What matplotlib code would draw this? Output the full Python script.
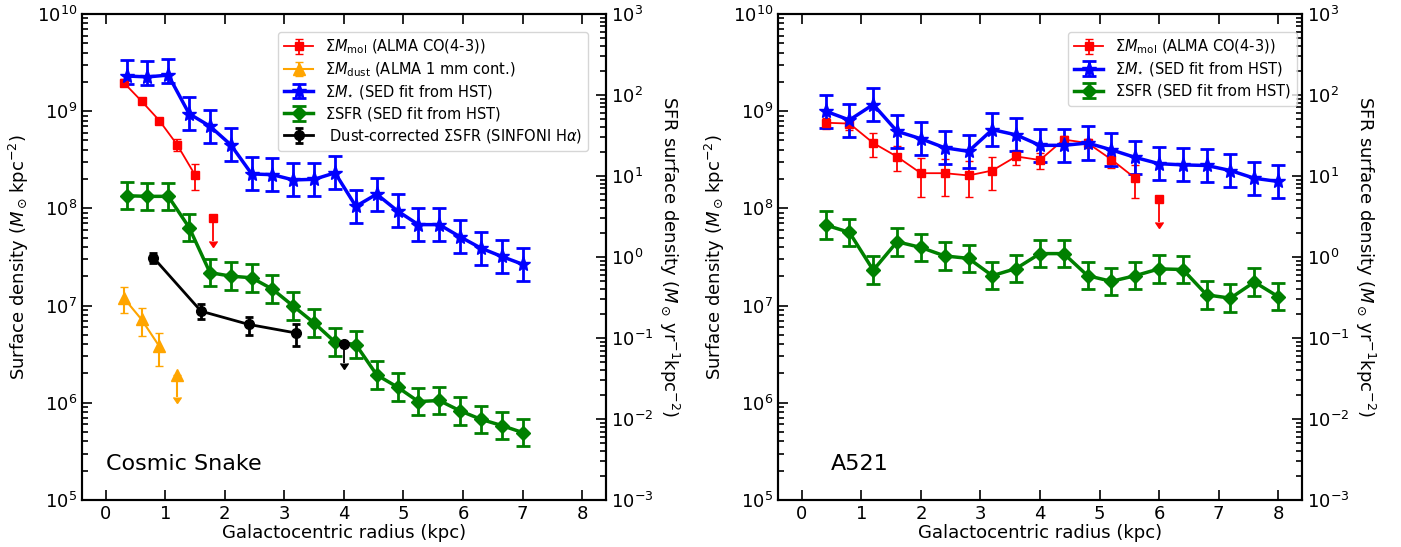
import numpy as np
import matplotlib.pyplot as plt

# ---- Cosmic Snake ----
cs_r = [0.35, 0.70, 1.05, 1.40, 1.75, 2.10, 2.45, 2.80, 3.15, 3.50,
        3.85, 4.20, 4.55, 4.90, 5.25, 5.60, 5.95, 6.30, 6.65, 7.00]
cs_mstar = [2.3e9, 2.25e9, 2.35e9, 9.4e8, 7.0e8, 4.5e8, 2.26e8, 2.22e8, 1.96e8, 1.99e8,
            2.32e8, 1.05e8, 1.4e8, 9.4e7, 6.8e7, 6.8e7, 5.1e7, 3.9e7, 3.2e7, 2.66e7]
cs_mstar_up = [0.165, 0.165, 0.165, 0.17, 0.17, 0.17, 0.17, 0.17, 0.17, 0.17,
               0.17, 0.17, 0.17, 0.17, 0.17, 0.17, 0.17, 0.17, 0.17, 0.17]
cs_mstar_dn = [0.08, 0.08, 0.08, 0.17, 0.17, 0.17, 0.17, 0.17, 0.17, 0.17,
               0.17, 0.17, 0.17, 0.17, 0.17, 0.17, 0.17, 0.17, 0.17, 0.17]
cs_sfr = [5.7, 5.6, 5.6, 2.31, 0.64, 0.58, 0.553, 0.40, 0.247, 0.153,
          0.089, 0.083, 0.035, 0.0247, 0.0164, 0.0169, 0.0126, 0.0099, 0.0083, 0.0068]
cs_sfr_err = [0.17] * 20

cs_mol_r = [0.3, 0.6, 0.9, 1.2, 1.5]
cs_mol = [1.97e9, 1.27e9, 8.0e8, 4.5e8, 2.2e8]
cs_mol_err = [1.5e8, 7e7, 6e7, 6.5e7, 6.6e7]
cs_mol_lim_r = [1.8]
cs_mol_lim = [7.9e7]

cs_dust_r = [0.3, 0.6, 0.9]
cs_dust = [1.2e7, 7.2e6, 3.8e6]
cs_dust_err = [3.7e6, 2.3e6, 1.4e6]
cs_dust_lim_r = [1.2]
cs_dust_lim = [1.95e6]

cs_ha_r = [0.8, 1.6, 2.4, 3.2]
cs_ha = [0.98, 0.214, 0.147, 0.115]
cs_ha_err = [0.14, 0.045, 0.037, 0.035]
cs_ha_lim_r = [4.0]
cs_ha_lim = [0.084]

# ---- A521 ----
a_r = [0.4, 0.8, 1.2, 1.6, 2.0, 2.4, 2.8, 3.2, 3.6, 4.0,
       4.4, 4.8, 5.2, 5.6, 6.0, 6.4, 6.8, 7.2, 7.6, 8.0]
a_mstar = [1.0e9, 8.1e8, 1.17e9, 6.2e8, 5.2e8, 4.2e8, 3.86e8, 6.46e8, 5.7e8, 4.45e8,
           4.45e8, 4.7e8, 4.0e8, 3.34e8, 2.88e8, 2.8e8, 2.76e8, 2.45e8, 2.04e8, 1.89e8]
a_mstar_err = [0.17] * 20
a_sfr = [2.48, 2.01, 0.686, 1.54, 1.31, 1.03, 0.96, 0.587, 0.72, 1.10,
         1.10, 0.587, 0.50, 0.587, 0.713, 0.70, 0.34, 0.31, 0.49, 0.324]
a_sfr_err = [0.17] * 20

a_mol_r = [0.4, 0.8, 1.2, 1.6, 2.0, 2.4, 2.8, 3.2, 3.6, 4.0, 4.4, 4.8, 5.2, 5.6]
a_mol = [7.6e8, 7.45e8, 4.7e8, 3.4e8, 2.3e8, 2.3e8, 2.18e8, 2.45e8, 3.42e8, 3.14e8,
         5.1e8, 4.7e8, 3.18e8, 2.04e8]
a_mol_err = [1.0e8, 1.0e8, 1.3e8, 1.0e8, 1.0e8, 9.5e7, 8.7e7, 9e7, 6e7, 6e7,
             4.5e7, 5e7, 5.5e7, 7.5e7]
a_mol_lim_r = [6.0]
a_mol_lim = [1.24e8]

lbl_mol = r'$\Sigma M_{\rm mol}$ (ALMA CO(4-3))'
lbl_dust = r'$\Sigma M_{\rm dust}$ (ALMA 1 mm cont.)'
lbl_star = r'$\Sigma M_{\star}$ (SED fit from HST)'
lbl_sfr = r'$\Sigma$SFR (SED fit from HST)'
lbl_ha = r' Dust-corrected $\Sigma$SFR (SINFONI H$\alpha$)'


def dex_err(v, up, dn):
    v = np.asarray(v)
    return [v - v / 10 ** np.asarray(dn), v * 10 ** np.asarray(up) - v]


def lim_err(v, dex=0.23):
    v = np.asarray(v)
    return v - v / 10 ** dex


def setup(ax, ax2):
    ax.set_yscale('log')
    ax2.set_yscale('log')
    ax.set_xlim(-0.4, 8.4)
    ax.set_ylim(1e5, 1e10)
    ax2.set_ylim(1e-3, 1e3)
    ax.set_xticks(range(9))
    ax.tick_params(which='both', direction='in', top=True, right=False, labelsize=13, width=1.2)
    ax.tick_params(which='major', length=7)
    ax.tick_params(which='minor', length=4)
    ax.tick_params(axis='x', which='minor', bottom=False, top=False)
    ax2.tick_params(which='both', direction='in', labelsize=13, width=1.2)
    ax2.tick_params(which='major', length=7)
    ax2.tick_params(which='minor', length=4)
    for a in (ax, ax2):
        for s in a.spines.values():
            s.set_linewidth(1.5)
    ax.set_xlabel('Galactocentric radius (kpc)', fontsize=13, labelpad=1)
    ax.set_ylabel(r'Surface density ($M_\odot\,$kpc$^{-2}$)', fontsize=13)
    ax2.set_ylabel(r'SFR surface density ($M_\odot\,$yr$^{-1}$kpc$^{-2}$)',
                   fontsize=13, rotation=270, labelpad=20)


fig = plt.figure(figsize=(14.01, 5.47), dpi=100)

# left panel
ax1 = fig.add_axes([0.0585, 0.086, 0.374, 0.8885])
ax1b = ax1.twinx()
setup(ax1, ax1b)

h_mol = ax1.errorbar(cs_mol_r, cs_mol, yerr=cs_mol_err, fmt='s-', color='red', ms=6,
                     lw=1.3, elinewidth=1.3, capsize=3, label=lbl_mol)
ax1.errorbar(cs_mol_lim_r, cs_mol_lim, yerr=lim_err(cs_mol_lim), uplims=True, fmt='s',
             color='red', ms=6, elinewidth=1.3, capsize=3)
h_dust = ax1.errorbar(cs_dust_r, cs_dust, yerr=cs_dust_err, fmt='^-', color='orange', ms=9,
                      lw=1.5, elinewidth=1.5, capsize=3, label=lbl_dust)
ax1.errorbar(cs_dust_lim_r, cs_dust_lim, yerr=lim_err(cs_dust_lim), uplims=True, fmt='^',
             color='orange', ms=9, elinewidth=1.5, capsize=3)
h_star = ax1.errorbar(cs_r, cs_mstar, yerr=dex_err(cs_mstar, cs_mstar_up, cs_mstar_dn),
                      fmt='*-', color='blue', ms=11, lw=2.5, elinewidth=2, capsize=5,
                      capthick=2, label=lbl_star)
h_sfr = ax1b.errorbar(cs_r, cs_sfr, yerr=dex_err(cs_sfr, cs_sfr_err, cs_sfr_err),
                      fmt='D-', color='green', ms=7, lw=2.5, elinewidth=2, capsize=5,
                      capthick=2, label=lbl_sfr)
h_ha = ax1b.errorbar(cs_ha_r, cs_ha, yerr=cs_ha_err, fmt='o-', color='black', ms=7,
                     lw=2, elinewidth=2, capsize=3, capthick=2, label=lbl_ha)
ax1b.errorbar(cs_ha_lim_r, cs_ha_lim, yerr=lim_err(cs_ha_lim), uplims=True, fmt='o',
              color='black', ms=7, elinewidth=1.3, capsize=3)
ax1b.legend([h_mol, h_dust, h_star, h_sfr, h_ha], [lbl_mol, lbl_dust, lbl_star, lbl_sfr, lbl_ha],
            loc='upper right', bbox_to_anchor=(0.966, 0.963), borderaxespad=0,
            fontsize=10.5, labelspacing=0.28)
ax1.text(0.045, 0.062, 'Cosmic Snake', transform=ax1.transAxes, fontsize=16)

# right panel
ax2 = fig.add_axes([0.5553, 0.086, 0.374, 0.8885])
ax2b = ax2.twinx()
setup(ax2, ax2b)

g_mol = ax2.errorbar(a_mol_r, a_mol, yerr=a_mol_err, fmt='s-', color='red', ms=6,
                     lw=1.3, elinewidth=1.3, capsize=3, label=lbl_mol)
ax2.errorbar(a_mol_lim_r, a_mol_lim, yerr=lim_err(a_mol_lim), uplims=True, fmt='s',
             color='red', ms=6, elinewidth=1.3, capsize=3)
g_star = ax2.errorbar(a_r, a_mstar, yerr=dex_err(a_mstar, a_mstar_err, a_mstar_err),
                      fmt='*-', color='blue', ms=11, lw=2.5, elinewidth=2, capsize=5,
                      capthick=2, label=lbl_star)
g_sfr = ax2b.errorbar(a_r, a_sfr, yerr=dex_err(a_sfr, a_sfr_err, a_sfr_err),
                      fmt='D-', color='green', ms=7, lw=2.5, elinewidth=2, capsize=5,
                      capthick=2, label=lbl_sfr)
ax2b.legend([g_mol, g_star, g_sfr], [lbl_mol, lbl_star, lbl_sfr],
            loc='upper right', bbox_to_anchor=(0.99, 0.963), borderaxespad=0,
            fontsize=10.5, labelspacing=0.28)
ax2.text(0.10, 0.062, 'A521', transform=ax2.transAxes, fontsize=16)

fig.savefig('out.png', dpi=100)
